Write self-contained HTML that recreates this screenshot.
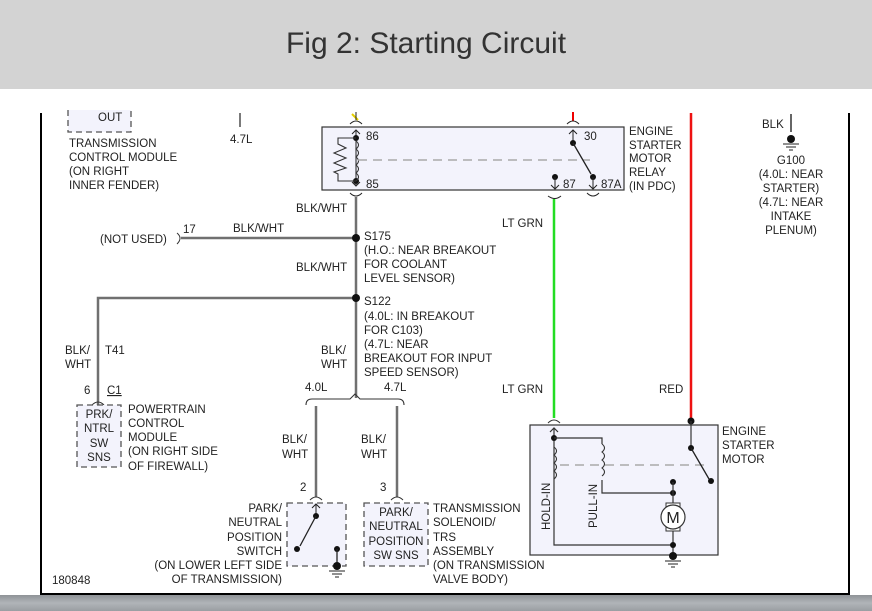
<!DOCTYPE html>
<html><head><meta charset="utf-8"><style>
html,body{margin:0;padding:0;width:872px;height:611px;overflow:hidden;background:#fff}
svg{display:block}
text{font-family:"Liberation Sans",Arial,sans-serif;font-size:11.5px;fill:#222}
</style></head><body>
<svg width="872" height="611" viewBox="0 0 872 611" xmlns="http://www.w3.org/2000/svg">
<defs><linearGradient id="g" x1="0" y1="0" x2="0" y2="1"><stop offset="0" stop-color="#8f9397"/><stop offset="0.5" stop-color="#b0b4b8"/><stop offset="1" stop-color="#9a9ea2"/></linearGradient></defs>
<rect x="0" y="0" width="872" height="89" fill="#d3d3d3"/>
<text x="426" y="53" text-anchor="middle" style="font-size:30px;fill:#333">Fig 2: Starting Circuit</text>
<rect x="0" y="595" width="872" height="16" fill="url(#g)"/>
<line x1="41" y1="113" x2="41" y2="595" stroke="#000" stroke-width="2"/>
<line x1="849" y1="113" x2="849" y2="595" stroke="#000" stroke-width="2"/>
<line x1="40" y1="594" x2="850" y2="594" stroke="#000" stroke-width="2"/>

<rect x="68" y="110" width="63" height="22" fill="#f3f3fc"/>
<path d="M68 110 V132 H131 V110" fill="none" stroke="#555" stroke-dasharray="6,4" stroke-width="1.3"/>
<text x="98" y="121">OUT</text>
<text x="69" y="147">TRANSMISSION</text>
<text x="69" y="161">CONTROL MODULE</text>
<text x="69" y="175">(ON RIGHT</text>
<text x="69" y="189">INNER FENDER)</text>
<line x1="240" y1="113" x2="240" y2="127" stroke="#222" stroke-width="1.2"/>
<text x="230" y="143">4.7L</text>

<rect x="322" y="127" width="302" height="63" fill="#f3f3fc" stroke="#333" stroke-width="1.2"/>
<line x1="352" y1="114" x2="358" y2="120" stroke="#e6d000" stroke-width="2"/>
<line x1="356" y1="112" x2="356" y2="120" stroke="#222" stroke-width="1"/>
<path d="M350 124 Q356 118 362 124" fill="none" stroke="#222"/>
<line x1="573" y1="112" x2="573" y2="121" stroke="#e00" stroke-width="2"/>
<path d="M567 124 Q573 118 579 124" fill="none" stroke="#222"/>
<path d="M356 130 V185 M352 134 L356 130 L360 134 M352 182 L356 186 L360 182" fill="none" stroke="#222"/>
<circle cx="356" cy="138" r="3" fill="#111"/><circle cx="356" cy="181" r="3" fill="#111"/>
<path d="M356 138 H338 V144 L346 148 L334 153 L346 158 L334 163 L346 168 L334 172 L338 174 V181 H356" fill="none" stroke="#333" stroke-width="1.1"/>
<path d="M356 141 q5 4 0 8 q5 4 0 8 q5 4 0 8 q5 4 0 8 q5 4 0 8" fill="none" stroke="#333" stroke-width="1.1"/>
<line x1="358" y1="160" x2="590" y2="160" stroke="#aaa" stroke-width="1.5" stroke-dasharray="9,6"/>
<text x="366" y="140">86</text><text x="366" y="188">85</text>
<path d="M573 130 V143 M569 134 L573 130 L577 134" fill="none" stroke="#222"/>
<circle cx="573" cy="143" r="3" fill="#111"/>
<line x1="573" y1="143" x2="591" y2="174" stroke="#222" stroke-width="1.3"/>
<circle cx="593" cy="177" r="3" fill="#111"/>
<path d="M593 177 V189 M589 185 L593 189 L597 185" fill="none" stroke="#222"/>
<circle cx="555" cy="177" r="3" fill="#111"/>
<path d="M555 177 V189 M551 185 L555 189 L559 185" fill="none" stroke="#222"/>
<text x="584" y="140">30</text><text x="563" y="188">87</text><text x="601" y="188">87A</text>
<path d="M350 193 Q356 199 362 193 M548 196 Q555 201 561 196 M587 193 Q593 199 599 193" fill="none" stroke="#222"/>
<text x="629" y="135">ENGINE</text><text x="629" y="149">STARTER</text><text x="629" y="162">MOTOR</text><text x="629" y="176">RELAY</text><text x="629" y="190">(IN PDC)</text>

<g stroke="#707070" stroke-width="2.5" fill="none">
<path d="M356 197 V398"/>
<path d="M181 238 H356"/>
<path d="M98 405 V298 H356"/>
<path d="M316 497 V406 M397 497 V406"/>
</g>
<path d="M306 405 Q306 399 312 399 H350 L355 394 L360 399 H398 Q404 399 404 405" fill="none" stroke="#333" stroke-width="1.1"/>
<path d="M177 233 Q183 238 177 244" fill="none" stroke="#333"/>
<circle cx="356" cy="238" r="4" fill="#111"/><circle cx="356" cy="298" r="4" fill="#111"/>
<text x="296" y="212">BLK/WHT</text>
<text x="100" y="243">(NOT USED)</text><text x="183" y="233">17</text><text x="233" y="232">BLK/WHT</text>
<text x="364" y="240">S175</text><text x="364" y="254">(H.O.: NEAR BREAKOUT</text><text x="364" y="268">FOR COOLANT</text><text x="364" y="282">LEVEL SENSOR)</text>
<text x="296" y="271">BLK/WHT</text>
<text x="364" y="305">S122</text><text x="364" y="320">(4.0L: IN BREAKOUT</text><text x="364" y="334">FOR C103)</text><text x="364" y="348">(4.7L: NEAR</text><text x="364" y="362">BREAKOUT FOR INPUT</text><text x="364" y="376">SPEED SENSOR)</text>
<text x="321" y="354">BLK/</text><text x="321" y="368">WHT</text>
<text x="305" y="391">4.0L</text><text x="384" y="391">4.7L</text>
<text x="65" y="354">BLK/</text><text x="65" y="368">WHT</text><text x="105" y="354">T41</text>
<text x="84" y="394">6</text><text x="107" y="394" style="text-decoration:underline">C1</text>
<path d="M92 405 Q98 399 104 405" fill="none" stroke="#333"/>

<rect x="77" y="405" width="44" height="62" fill="#f3f3fc" stroke="#555" stroke-dasharray="6,4" stroke-width="1.3"/>
<text x="99" y="418" text-anchor="middle">PRK/</text><text x="99" y="432" text-anchor="middle">NTRL</text><text x="99" y="447" text-anchor="middle">SW</text><text x="99" y="461" text-anchor="middle">SNS</text>
<text x="128" y="413">POWERTRAIN</text><text x="128" y="427">CONTROL</text><text x="128" y="441">MODULE</text><text x="128" y="455">(ON RIGHT SIDE</text><text x="128" y="470">OF FIREWALL)</text>

<text x="282" y="443">BLK/</text><text x="282" y="458">WHT</text>
<text x="361" y="443">BLK/</text><text x="361" y="458">WHT</text>
<text x="300" y="491">2</text><text x="380" y="491">3</text>
<path d="M310 500 Q316 494 322 500 M391 500 Q397 494 403 500" fill="none" stroke="#333"/>

<rect x="287" y="503" width="59" height="63" fill="#f3f3fc" stroke="#555" stroke-dasharray="6,4" stroke-width="1.3"/>
<path d="M316 504 V516 M312 508 L316 504 L320 508" fill="none" stroke="#222"/>
<circle cx="316" cy="516" r="3" fill="#111"/>
<line x1="316" y1="516" x2="300" y2="546" stroke="#222" stroke-width="1.3"/>
<circle cx="297" cy="549" r="3" fill="#111"/>
<circle cx="337" cy="549" r="3" fill="#111"/>
<line x1="337" y1="549" x2="337" y2="566" stroke="#222" stroke-width="1.3"/>
<circle cx="337" cy="566" r="4" fill="#111"/>
<path d="M329 571 H345 M332 574 H342 M335 577 H339" stroke="#222"/>
<g text-anchor="end"><text x="282" y="512">PARK/</text><text x="282" y="526">NEUTRAL</text><text x="282" y="541">POSITION</text><text x="282" y="555">SWITCH</text><text x="282" y="569">(ON LOWER LEFT SIDE</text><text x="282" y="583">OF TRANSMISSION)</text></g>

<rect x="364" y="503" width="64" height="63" fill="#f3f3fc" stroke="#555" stroke-dasharray="6,4" stroke-width="1.3"/>
<g text-anchor="middle"><text x="396" y="516">PARK/</text><text x="396" y="530">NEUTRAL</text><text x="396" y="545">POSITION</text><text x="396" y="559">SW SNS</text></g>
<text x="433" y="512">TRANSMISSION</text><text x="433" y="526">SOLENOID/</text><text x="433" y="541">TRS</text><text x="433" y="555">ASSEMBLY</text><text x="433" y="569">(ON TRANSMISSION</text><text x="433" y="583">VALVE BODY)</text>
<text x="52" y="584">180848</text>

<line x1="554" y1="199" x2="554" y2="418" stroke="#22dd22" stroke-width="2.5"/>
<line x1="691" y1="113" x2="691" y2="420" stroke="#ee1111" stroke-width="2.5"/>
<text x="502" y="227">LT GRN</text><text x="502" y="393">LT GRN</text><text x="659" y="393">RED</text>

<rect x="530" y="425" width="188" height="130" fill="#f3f3fc" stroke="#333" stroke-width="1.2"/>
<path d="M548 423 Q554 417 560 423" fill="none" stroke="#333"/>
<path d="M554 428 V545 H673 M550 432 L554 428 L558 432" fill="none" stroke="#333" stroke-width="1.2"/>
<circle cx="554" cy="438" r="3" fill="#111"/>
<path d="M554 438 H602 V444 M602 480 V493 H673" fill="none" stroke="#333" stroke-width="1.2"/>
<path d="M554 447 q5 4 0 8 q5 4 0 8 q5 4 0 8 q5 4 0 8" fill="none" stroke="#333" stroke-width="1.1"/>
<path d="M602 444 q5 4 0 8 q5 4 0 8 q5 4 0 8 q5 4 0 8" fill="none" stroke="#333" stroke-width="1.1"/>
<line x1="560" y1="465" x2="706" y2="465" stroke="#aaa" stroke-width="1.5" stroke-dasharray="9,6"/>
<text transform="translate(550,530) rotate(-90)">HOLD-IN</text>
<text transform="translate(597,528) rotate(-90)">PULL-IN</text>
<circle cx="673" cy="482" r="3" fill="#111"/><circle cx="673" cy="493" r="3" fill="#111"/>
<path d="M673 482 V503 M673 531 V555" stroke="#333" stroke-width="1.2"/>
<rect x="666" y="503" width="14" height="5" fill="#fff" stroke="#333"/>
<rect x="666" y="526" width="14" height="5" fill="#fff" stroke="#333"/>
<circle cx="673" cy="517" r="12" fill="#fff" stroke="#333" stroke-width="1.2"/>
<text x="673" y="523" text-anchor="middle" style="font-size:16px">M</text>
<circle cx="673" cy="545" r="3" fill="#111"/><circle cx="673" cy="556" r="4" fill="#111"/>
<path d="M665 561 H681 M668 564 H678 M671 567 H675" stroke="#222"/>
<circle cx="691" cy="421" r="3.5" fill="#111"/>
<path d="M691 421 V448" stroke="#333" stroke-width="1.2"/>
<circle cx="691" cy="448" r="3" fill="#111"/>
<line x1="691" y1="448" x2="709" y2="479" stroke="#222" stroke-width="1.3"/>
<circle cx="711" cy="481" r="3" fill="#111"/>
<text x="722" y="435">ENGINE</text><text x="722" y="449">STARTER</text><text x="722" y="463">MOTOR</text>

<line x1="791" y1="114" x2="791" y2="132" stroke="#333" stroke-width="1.5"/>
<text x="762" y="128">BLK</text>
<circle cx="791" cy="139" r="4" fill="#111"/>
<path d="M783 144 H799 M786 147 H796 M789 150 H793" stroke="#222"/>
<g text-anchor="middle"><text x="791" y="164">G100</text><text x="791" y="178">(4.0L: NEAR</text><text x="791" y="192">STARTER)</text><text x="791" y="206">(4.7L: NEAR</text><text x="791" y="220">INTAKE</text><text x="791" y="234">PLENUM)</text></g>
</svg>
</body></html>
